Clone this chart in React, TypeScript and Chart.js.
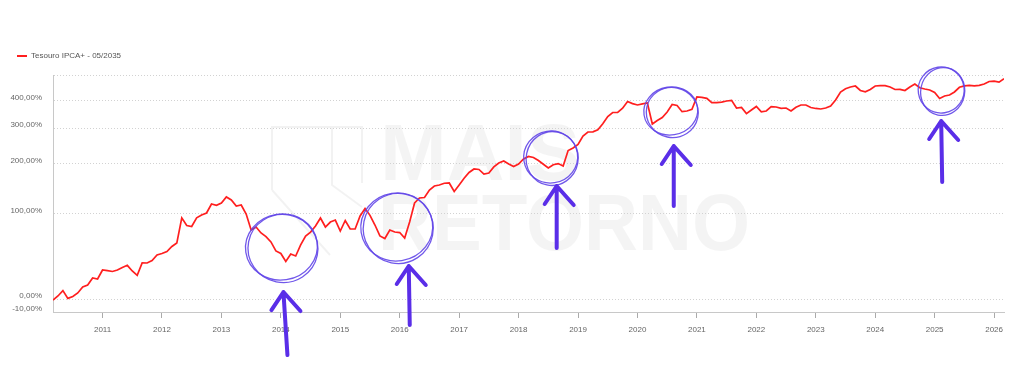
import React, { useEffect, useRef } from "react";
import { Chart, registerables } from "chart.js";

Chart.register(...registerables);

// ---------------- data (accumulated return, %) ----------------
const seriesLabel = "Tesouro IPCA+ - 05/2035";
const firstMonth2010 = 3; // series starts in March 2010

const values2010 = [-0.8, 2.5, 7.0, 0.5, 2.0, 5.0, 10.2, 12.0, 18.6, 17.6];
const values2011 = [26.5, 25.8, 25.0, 26.5, 29.1, 31.4, 25.5, 21.2, 34.0, 33.9, 36.6, 42.9];
const values2012 = [44.6, 47.0, 53.1, 57.5, 93.0, 81.5, 80.0, 93.2, 97.6, 100.8, 116.0, 113.8];
const values2013 = [117.8, 128.7, 123.2, 112.5, 114.3, 99.2, 75.0, 79.3, 70.8, 65.8, 58.8, 47.6];
const values2014 = [44.6, 35.5, 44.0, 41.7, 55.0, 66.7, 72.1, 80.7, 92.9, 79.3, 86.6, 89.7];
const values2015 = [73.5, 89.0, 76.4, 76.4, 96.0, 108.3, 97.0, 82.2, 66.7, 63.3, 75.0, 72.1];
const values2016 = [71.4, 64.0, 86.6, 117.8, 126.8, 127.7, 142.0, 150.0, 152.0, 155.6, 156.2, 139.1];
const values2017 = [152.0, 166.1, 178.9, 187.0, 185.8, 175.5, 177.8, 191.7, 201.2, 206.1, 198.8, 192.8];
const values2018 = [198.8, 211.1, 217.5, 214.9, 207.3, 198.1, 189.3, 196.9, 199.8, 194.0, 233.3, 240.1];
const values2019 = [249.9, 275.0, 287.3, 287.9, 294.3, 314.3, 339.1, 353.6, 354.4, 369.4, 396.0, 387.5];
const values2020 = [382.1, 386.7, 389.9, 313.3, 325.2, 335.6, 355.5, 384.1, 380.1, 356.6, 359.2, 365.6];
const values2021 = [414.4, 413.1, 409.0, 391.1, 391.1, 393.2, 398.0, 400.8, 370.5, 372.4, 349.5, 363.0];
const values2022 = [376.3, 356.2, 359.2, 375.5, 374.3, 369.4, 370.5, 359.2, 373.2, 382.1, 382.1, 372.4];
const values2023 = [368.7, 366.7, 370.5, 378.2, 402.0, 435.7, 450.2, 457.8, 462.3, 442.2, 436.5, 446.6];
const values2024 = [462.3, 463.7, 463.7, 457.8, 446.6, 447.5, 442.2, 457.8, 471.5, 454.6, 448.8, 444.4];
const values2025 = [433.5, 408.2, 418.6, 422.8, 435.7, 456.4, 463.2, 465.0, 463.2, 465.0, 471.5, 483.3];
const values2026 = [484.7, 480.0, 496.3];

const yearlyValues: [number, number[]][] = [
  [2010, values2010], [2011, values2011], [2012, values2012], [2013, values2013],
  [2014, values2014], [2015, values2015], [2016, values2016], [2017, values2017],
  [2018, values2018], [2019, values2019], [2020, values2020], [2021, values2021],
  [2022, values2022], [2023, values2023], [2024, values2024], [2025, values2025],
  [2026, values2026],
];

const yearTicks = [2011, 2012, 2013, 2014, 2015, 2016, 2017, 2018, 2019, 2020, 2021, 2022, 2023, 2024, 2025, 2026];
const yTickPercents = [-10, 0, 100, 200, 300, 400];
const yAxisMinPct = -10;
const yAxisMaxPct = 514.8;

// hand-drawn highlights: circle centre in data coords
const highlights = [
  { year: 2014.01, pct: 52.4 },
  { year: 2015.95, pct: 79.3 },
  { year: 2018.54, pct: 216.2 },
  { year: 2020.56, pct: 359.2 },
  { year: 2025.11, pct: 444.4 },
];

// ---------------- helpers ----------------
const LINE_COLOR = "#ff1f1f";
const toIndex = (pct: number) => 1 + pct / 100;
const fmtPct = (pct: number) => pct.toFixed(2).replace(".", ",") + "%";

const points: { x: number; y: number }[] = [];
yearlyValues.forEach(([year, vals]) => {
  const start = year === 2010 ? firstMonth2010 : 1;
  vals.forEach((v, i) => points.push({ x: year + (start - 1 + i) / 12, y: toIndex(v) }));
});

const xMin = points[0].x;
const xMax = points[points.length - 1].x;
const yMin = toIndex(yAxisMinPct);
const yMax = toIndex(yAxisMaxPct);

// circle radii / arrow geometry (pixels, relative to circle centre)
const circleGeom = [
  { rx: 36, ry: 33, tip: [2, 45], tail: [6, 108] },
  { rx: 36, ry: 34, tip: [12, 39], tail: [13, 98] },
  { rx: 27, ry: 26, tip: [6, 29], tail: [6, 91] },
  { rx: 27, ry: 24, tip: [3, 35], tail: [3, 95] },
  { rx: 23, ry: 23, tip: [0, 31], tail: [1, 92] },
];

const legendSpacing = {
  id: "legendSpacing",
  beforeInit(chart: any) {
    const legend = chart.legend;
    if (!legend) return;
    const orig = legend.fit;
    legend.fit = function () {
      orig.call(this);
      this.height += 5;
    };
  },
};

const watermark = {
  id: "watermark",
  beforeDraw(chart: any) {
    const ctx = chart.ctx as CanvasRenderingContext2D;
    ctx.save();
    ctx.fillStyle = "rgba(0,0,0,0.045)";
    ctx.font = "bold 80px 'Liberation Sans', Arial, sans-serif";
    ctx.textBaseline = "alphabetic";
    ctx.fillText("MAIS", 380, 180);
    ctx.fillText("RETORNO", 378, 250, 372);
    ctx.strokeStyle = "rgba(0,0,0,0.05)";
    ctx.lineWidth = 2;
    ctx.beginPath();
    ctx.moveTo(272, 190);
    ctx.lineTo(272, 127);
    ctx.lineTo(362, 127);
    ctx.lineTo(362, 183);
    ctx.moveTo(332, 127);
    ctx.lineTo(332, 185);
    ctx.lineTo(362, 207);
    ctx.moveTo(272, 190);
    ctx.lineTo(330, 255);
    ctx.stroke();
    ctx.restore();
  },
};

const annotations = {
  id: "annotations",
  afterDraw(chart: any) {
    const ctx = chart.ctx as CanvasRenderingContext2D;
    const xs = chart.scales.x;
    const ys = chart.scales.y;
    ctx.save();
    highlights.forEach((h, i) => {
      const g = circleGeom[i];
      const cx = xs.getPixelForValue(h.year);
      const cy = ys.getPixelForValue(toIndex(h.pct));
      // double hand-drawn loop
      ctx.strokeStyle = "rgba(98,70,232,0.9)";
      ctx.lineWidth = 1.3;
      ctx.beginPath();
      ctx.ellipse(cx, cy, g.rx, g.ry, -0.15, 0, Math.PI * 2);
      ctx.stroke();
      ctx.beginPath();
      ctx.ellipse(cx + 1.5, cy + 1.5, g.rx - 1, g.ry + 1, 0.2, 0, Math.PI * 2);
      ctx.stroke();
      // arrow
      const tx = cx + g.tip[0];
      const ty = cy + g.tip[1];
      const bx = cx + g.tail[0];
      const by = cy + g.tail[1];
      ctx.strokeStyle = "#5a2ee8";
      ctx.lineWidth = 4;
      ctx.lineCap = "round";
      ctx.lineJoin = "round";
      ctx.beginPath();
      ctx.moveTo(bx, by);
      ctx.lineTo(tx, ty);
      ctx.moveTo(tx - 12, ty + 18);
      ctx.lineTo(tx, ty);
      ctx.lineTo(tx + 17, ty + 19);
      ctx.stroke();
    });
    ctx.restore();
  },
};

export default function App() {
  const canvasRef = useRef<HTMLCanvasElement | null>(null);

  useEffect(() => {
    if (!canvasRef.current) return;
    Chart.defaults.font.family = "'Liberation Sans', Arial, sans-serif";
    Chart.defaults.font.size = 8;

    const chart = new Chart(canvasRef.current, {
      type: "line",
      data: {
        datasets: [
          {
            label: seriesLabel,
            data: points,
            borderColor: LINE_COLOR,
            backgroundColor: LINE_COLOR,
            borderWidth: 1.7,
            pointRadius: 0,
            tension: 0,
            fill: false,
          },
        ],
      },
      options: {
        responsive: false,
        animation: false,
        events: [],
        layout: { padding: { top: 35, left: 0, right: 20, bottom: 0 } },
        plugins: {
          tooltip: { enabled: false },
          legend: {
            position: "top",
            align: "start",
            labels: {
              boxWidth: 10,
              boxHeight: 2,
              padding: 17,
              color: "#555",
              font: { size: 8 },
              generateLabels: (c: any) =>
                Chart.defaults.plugins.legend.labels
                  .generateLabels(c)
                  .map((l: any) => ({ ...l, lineWidth: 0, fillStyle: LINE_COLOR, strokeStyle: LINE_COLOR })),
            },
          },
        },
        scales: {
          x: {
            type: "linear",
            min: xMin,
            max: xMax,
            afterBuildTicks: (scale: any) => {
              scale.ticks = yearTicks.map((v) => ({ value: v }));
            },
            afterFit: (scale: any) => {
              scale.height = 72;
              scale.paddingLeft = 0;
              scale.paddingRight = 0;
            },
            ticks: {
              autoSkip: false,
              maxRotation: 0,
              padding: 7,
              color: "#666",
              font: { size: 8 },
              callback: (v: any) => String(v),
            },
            grid: {
              drawOnChartArea: false,
              drawTicks: true,
              tickLength: 6,
              tickColor: "#aaa",
              color: "#aaa",
            },
            border: { display: true, color: "#c8c8c8", width: 1 },
          },
          y: {
            type: "logarithmic",
            min: yMin,
            max: yMax,
            afterBuildTicks: (scale: any) => {
              scale.ticks = [...yTickPercents.map((p) => ({ value: toIndex(p) })), { value: yMax }];
            },
            afterFit: (scale: any) => {
              scale.width = 53;
              scale.paddingTop = 0;
              scale.paddingBottom = 0;
            },
            ticks: {
              autoSkip: false,
              padding: 11,
              labelOffset: -3,
              color: "#666",
              font: { size: 8 },
              callback: (v: any) => {
                const val = Number(v);
                if (Math.abs(val - yMax) < 1e-9) return "";
                return fmtPct(Math.round((val - 1) * 10000) / 100);
              },
            },
            grid: { drawTicks: false, color: "#d2d2d2", lineWidth: 1 },
            border: { display: true, color: "#c8c8c8", width: 1, dash: [1, 2] },
          },
        },
      },
      plugins: [legendSpacing, watermark, annotations],
    } as any);

    return () => chart.destroy();
  }, []);

  return (
    <div style={{ position: "absolute", left: 0, top: 0, width: 1024, height: 384, background: "#fff" }}>
      <canvas ref={canvasRef} width={1024} height={384} style={{ display: "block" }} />
    </div>
  );
}
